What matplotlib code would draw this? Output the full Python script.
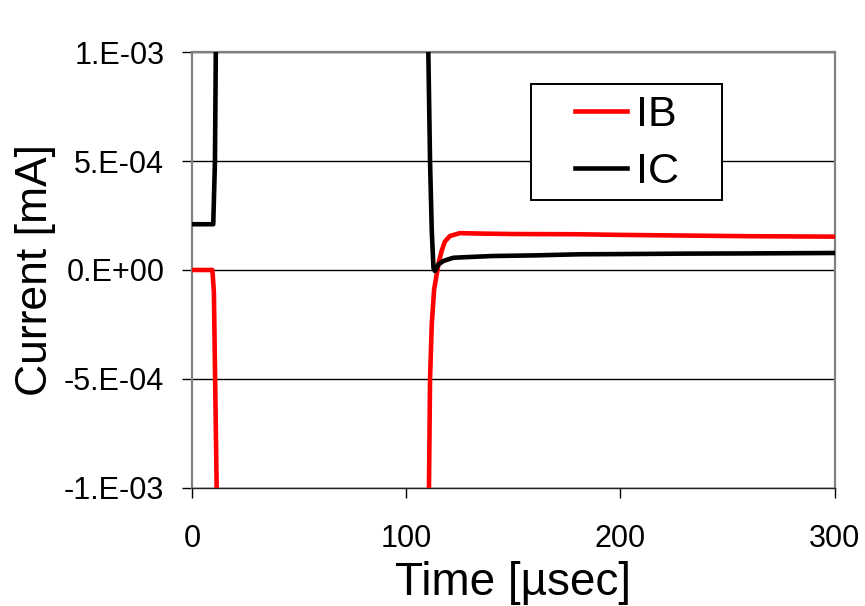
import matplotlib
matplotlib.use("Agg")
import matplotlib.pyplot as plt
from matplotlib.patches import Rectangle

plt.rcParams['font.family'] = ['Liberation Sans', 'DejaVu Sans']

# time [usec] and currents (off-scale parts just sit past the limits)
t_ib = [0, 5, 9.5, 10.2, 11.5, 12.5, 60, 109.5, 110.6, 111.1, 111.9, 113.0, 114.2,
        115.3, 116.5, 118.0, 120.4, 125, 135, 150, 180, 200, 230, 260, 300]
ib = [0.0, 0.0, 0.0, -1.0e-4, -1.0e-3, -1.5e-3, -1.5e-3, -1.5e-3, -1.0e-3, -5.0e-4,
      -2.5e-4, -9.0e-5, -2.0e-5, 4.0e-5, 8.7e-5, 1.3e-4, 1.56e-4, 1.69e-4, 1.67e-4,
      1.65e-4, 1.64e-4, 1.61e-4, 1.58e-4, 1.55e-4, 1.53e-4]

t_ic = [0, 5, 9.9, 10.7, 11.1, 12.0, 60, 109.5, 110.3, 111.1, 111.9, 112.7, 113.4,
        115.0, 117.3, 120.0, 122.0, 126, 140, 160, 181, 200, 230, 260, 300]
ic = [2.1e-4, 2.1e-4, 2.1e-4, 5.0e-4, 1.0e-3, 1.5e-3, 1.5e-3, 1.5e-3, 1.0e-3, 5.0e-4,
      1.8e-4, 1.0e-5, -5.0e-6, 2.5e-5, 4.1e-5, 5.0e-5, 5.6e-5, 5.8e-5, 6.4e-5, 6.7e-5,
      7.2e-5, 7.3e-5, 7.5e-5, 7.6e-5, 7.8e-5]

x_ticks = [0, 100, 200, 300]
y_ticks = [-1e-3, -5e-4, 0, 5e-4, 1e-3]
y_tick_labels = ['-1.E-03', '-5.E-04', '0.E+00', '5.E-04', '1.E-03']

fig = plt.figure(figsize=(8.65, 6.06), dpi=100)
ax = fig.add_axes([0.222, 0.195, 0.743, 0.719])

ax.plot(t_ib, ib, color='#ff0000', lw=3.3, label='IB', zorder=3)
ax.plot(t_ic, ic, color='black', lw=3.3, label='IC', zorder=4)

ax.set_xlim(0, 300)
ax.set_ylim(-1e-3, 1e-3)
ax.set_xticks(x_ticks)
ax.set_yticks(y_ticks)
ax.set_yticklabels(y_tick_labels)

# horizontal grid only, black
ax.grid(axis='y', color='black', lw=1.0)
ax.set_axisbelow(True)

for side in ['top', 'left', 'right']:
    ax.spines[side].set_color('#808080')
    ax.spines[side].set_linewidth(1.6)
ax.spines['bottom'].set_color('#222222')
ax.spines['bottom'].set_linewidth(1.0)

ax.tick_params(axis='y', direction='out', length=7, width=1, labelsize=22, pad=13)
ax.tick_params(axis='x', direction='out', length=7, width=1, labelsize=22, pad=19)

ax.set_xlabel('Time [\u00b5sec]', fontsize=33, labelpad=5)
ax.set_ylabel('Current [mA]', fontsize=32, labelpad=6)

# legend box is wider than tall in the original, so draw the frame separately
ax.add_patch(Rectangle((0.527, 0.661), 0.297, 0.266, transform=ax.transAxes,
                       facecolor='white', edgecolor='black', lw=1.4, zorder=5))
leg = ax.legend(loc='center', bbox_to_anchor=(0.677, 0.790), fontsize=31,
                frameon=False, borderpad=0, handlelength=1.2, handletextpad=0.2,
                labelspacing=0.4, borderaxespad=0)
leg.set_zorder(6)

fig.savefig('out.png', dpi=100, facecolor='white')
